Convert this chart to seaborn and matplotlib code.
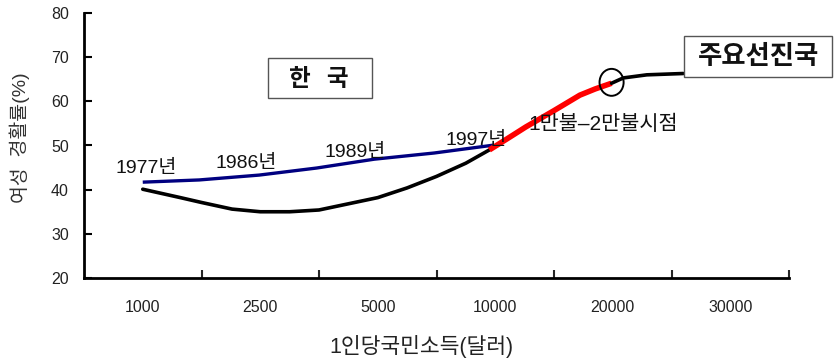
import matplotlib
matplotlib.use("Agg")
import matplotlib.pyplot as plt
from matplotlib.patches import Ellipse, Rectangle
import seaborn as sns

# Income brackets (categorical positions on the x axis)
income_labels = ["1000", "2500", "5000", "10000", "20000", "30000"]

# Developed-country trajectory: black (below 10k), red (10k-20k), black (above 20k)
dev_low_x = [0.5, 0.82, 1.0, 1.26, 1.5, 1.75, 2.0, 2.25, 2.5, 2.75, 3.0, 3.25, 3.45]
dev_low_y = [40.1, 38.2, 37.1, 35.6, 35.0, 35.0, 35.4, 36.8, 38.2, 40.4, 43.0, 46.0, 49.0]
dev_mid_x = [3.45, 3.6, 3.76, 4.0, 4.22, 4.35, 4.49]
dev_mid_y = [49.0, 51.5, 54.2, 57.9, 61.4, 62.8, 64.1]
dev_high_x = [4.49, 4.59, 4.79, 5.1]
dev_high_y = [64.1, 65.3, 66.0, 66.3]

# Korea trajectory
kor_x = [0.5, 0.98, 1.49, 1.98, 2.47, 2.98, 3.49]
kor_y = [41.7, 42.2, 43.3, 44.9, 46.9, 48.3, 50.1]

# Year annotations along the Korea line
year_labels = ["1977년", "1986년", "1989년", "1997년"]
year_x = [0.53, 1.38, 2.31, 3.34]
year_y = [44.7, 46.0, 48.5, 51.2]

MIXED = ["Liberation Sans", "Noto Sans CJK KR", "DejaVu Sans"]

sns.set_theme(style="white")
plt.rcParams["font.family"] = ["Noto Sans CJK KR", "DejaVu Sans"]

fig = plt.figure(figsize=(8.35, 3.58), dpi=100)
ax = fig.add_axes([84 / 835, 1 - 278 / 358, 705 / 835, 265 / 358])

sns.lineplot(x=dev_low_x, y=dev_low_y, ax=ax, color="black", linewidth=2.6,
             sort=False, estimator=None, zorder=2, solid_capstyle="round")
sns.lineplot(x=kor_x, y=kor_y, ax=ax, color="#000080", linewidth=2.4,
             sort=False, estimator=None, zorder=2, solid_capstyle="butt")
sns.lineplot(x=dev_mid_x, y=dev_mid_y, ax=ax, color="#ff0000", linewidth=4.0,
             sort=False, estimator=None, zorder=3, solid_capstyle="butt")
sns.lineplot(x=dev_high_x, y=dev_high_y, ax=ax, color="black", linewidth=2.6,
             sort=False, estimator=None, zorder=4, solid_capstyle="round")

# Marker circle around the 20k point
ax.add_patch(Ellipse((dev_mid_x[-1], dev_mid_y[-1] + 0.2), width=0.205, height=6.1,
                     fill=False, edgecolor="black", linewidth=1.4, zorder=5))

for lab, xx, yy in zip(year_labels, year_x, year_y):
    ax.text(xx, yy, lab, ha="center", va="center", fontsize=14, color="#111111",
            family=MIXED, zorder=6)

ax.text(4.42, 54.8, "1만불–2만불시점", ha="center", va="center", fontsize=15,
        color="#111111", family=MIXED, zorder=6)

# Framed labels
ax.add_patch(Rectangle((1.566, 60.75), 0.885, 9.05, facecolor="white",
                       edgecolor="#555555", linewidth=1.0, zorder=7))
ax.text(2.0, 65.1, "한   국", ha="center", va="center", fontsize=17, fontweight="bold",
        color="#111111", zorder=8)
ax.add_patch(Rectangle((5.106, 65.5), 1.26, 9.3, facecolor="white",
                       edgecolor="#555555", linewidth=1.0, zorder=7, clip_on=False))
ax.text(5.74, 70.1, "주요선진국", ha="center", va="center", fontsize=19, fontweight="bold",
        color="#111111", zorder=8, clip_on=False)

ax.set_xlim(0, 6)
ax.set_ylim(20, 80)
ax.set_yticks(range(20, 81, 10))
ax.set_xticks([1, 2, 3, 4, 5, 6])
ax.set_xticklabels([])
ax.set_xticks([i + 0.5 for i in range(len(income_labels))], minor=True)
ax.set_xticklabels(income_labels, minor=True)

for lab in ax.get_yticklabels():
    lab.set_fontfamily(["Liberation Sans", "DejaVu Sans"])
    lab.set_color("#222222")
for lab in ax.get_xticklabels(minor=True):
    lab.set_fontfamily(["Liberation Sans", "DejaVu Sans"])

ax.tick_params(axis="y", which="major", direction="in", length=6, width=1.5,
               labelsize=11.5, pad=11, colors="black", left=True)
ax.tick_params(axis="y", which="major", labelcolor="#222222")
ax.tick_params(axis="x", which="major", direction="in", length=6, width=1.5, bottom=True)
ax.tick_params(axis="x", which="minor", length=0, labelsize=11.5, pad=16, labelcolor="#222222")

for side in ["top", "right"]:
    ax.spines[side].set_visible(False)
for side in ["left", "bottom"]:
    ax.spines[side].set_color("black")
    ax.spines[side].set_linewidth(2.0)

ax.set_ylabel("여성  경활률(%)", fontsize=14, color="#333333", family=MIXED)
ax.yaxis.set_label_coords(-0.077, 0.53)
ax.set_xlabel("1인당국민소득(달러)", fontsize=15.5, color="#222222", family=MIXED)
ax.xaxis.set_label_coords(0.479, -0.215)

fig.savefig("out.png", dpi=100, facecolor="white")
